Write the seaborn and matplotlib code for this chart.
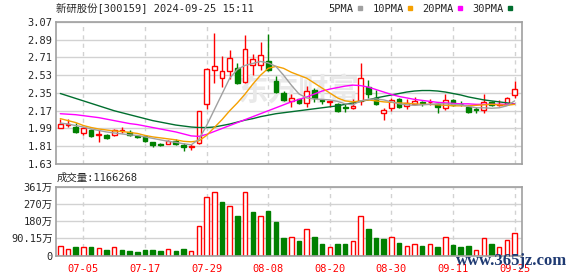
import matplotlib
matplotlib.use("Agg")
import matplotlib.pyplot as plt
from matplotlib.lines import Line2D
import seaborn as sns
import numpy as np

# ---------------- data ----------------
dates = ["07-05", "07-17", "07-29", "08-08", "08-20", "08-30", "09-11", "09-25"]
date_idx = [3, 11, 19, 27, 35, 43, 51, 59]

opens = [2.00, 2.03, 2.01, 1.94, 1.97, 1.925, 1.925, 1.92, 1.965, 1.955,
         1.91, 1.915, 1.855, 1.83, 1.835, 1.865, 1.825, 1.80, 1.84, 2.24,
         2.58, 2.50, 2.57, 2.60, 2.46, 2.635, 2.635, 2.675, 2.475, 2.345,
         2.265, 2.285, 2.245, 2.385, 2.275, 2.26, 2.235, 2.205, 2.195, 2.27,
         2.41, 2.30, 2.145, 2.195, 2.29, 2.215, 2.235, 2.255, 2.255, 2.235,
         2.195, 2.275, 2.24, 2.205, 2.185, 2.18, 2.26, 2.225, 2.235, 2.33]
highs = [2.09, 2.09, 2.05, 2.01, 1.98, 1.97, 1.93, 1.98, 2.01, 1.97,
         1.92, 1.92, 1.855, 1.845, 1.875, 1.885, 1.84, 1.83, 2.165, 2.60,
         2.96, 2.73, 2.79, 2.65, 2.94, 2.75, 2.87, 2.945, 2.52, 2.37,
         2.335, 2.29, 2.425, 2.40, 2.285, 2.28, 2.245, 2.235, 2.285, 2.65,
         2.485, 2.385, 2.20, 2.30, 2.30, 2.285, 2.31, 2.27, 2.285, 2.25,
         2.335, 2.29, 2.27, 2.225, 2.205, 2.335, 2.265, 2.28, 2.31, 2.475]
lows = [1.99, 2.01, 1.94, 1.92, 1.90, 1.85, 1.88, 1.91, 1.94, 1.91,
        1.895, 1.855, 1.80, 1.81, 1.83, 1.825, 1.76, 1.77, 1.83, 2.19,
        2.45, 2.41, 2.49, 2.445, 2.45, 2.535, 2.585, 2.57, 2.35, 2.27,
        2.21, 2.235, 2.21, 2.26, 2.235, 2.21, 2.16, 2.155, 2.185, 2.225,
        2.30, 2.225, 2.08, 2.17, 2.20, 2.185, 2.225, 2.215, 2.225, 2.145,
        2.18, 2.215, 2.215, 2.145, 2.145, 2.145, 2.215, 2.215, 2.225, 2.295]
closes = [2.04, 2.04, 1.95, 2.00, 1.91, 1.935, 1.89, 1.97, 1.97, 1.92,
          1.905, 1.86, 1.82, 1.825, 1.865, 1.835, 1.805, 1.81, 2.165, 2.59,
          2.625, 2.575, 2.70, 2.455, 2.80, 2.69, 2.735, 2.585, 2.36, 2.28,
          2.295, 2.245, 2.37, 2.30, 2.27, 2.265, 2.17, 2.20, 2.22, 2.50,
          2.335, 2.235, 2.18, 2.275, 2.21, 2.245, 2.27, 2.25, 2.26, 2.205,
          2.275, 2.23, 2.235, 2.155, 2.18, 2.26, 2.225, 2.24, 2.30, 2.39]

ma5 = [2.045, 2.035, 2.02, 2.005, 1.985, 1.97, 1.955, 1.945, 1.935, 1.925,
       1.92, 1.905, 1.89, 1.875, 1.86, 1.85, 1.835, 1.825, 1.88, 2.02,
       2.18, 2.34, 2.50, 2.59, 2.63, 2.65, 2.67, 2.655, 2.62, 2.53,
       2.43, 2.34, 2.30, 2.29, 2.285, 2.28, 2.265, 2.24, 2.23, 2.27,
       2.285, 2.29, 2.28, 2.26, 2.24, 2.23, 2.225, 2.23, 2.235, 2.24,
       2.24, 2.235, 2.23, 2.215, 2.20, 2.20, 2.195, 2.20, 2.22, 2.27]
ma10 = [2.09, 2.07, 2.05, 2.02, 2.00, 1.985, 1.975, 1.965, 1.96, 1.95,
        1.94, 1.92, 1.905, 1.895, 1.885, 1.875, 1.86, 1.855, 1.865, 1.92,
        2.00, 2.08, 2.17, 2.25, 2.34, 2.44, 2.53, 2.60, 2.62, 2.60,
        2.56, 2.53, 2.50, 2.45, 2.40, 2.35, 2.30, 2.27, 2.26, 2.27,
        2.28, 2.27, 2.26, 2.255, 2.25, 2.245, 2.24, 2.235, 2.235, 2.23,
        2.225, 2.22, 2.22, 2.22, 2.225, 2.23, 2.235, 2.23, 2.225, 2.235]
ma20 = [2.14, 2.135, 2.13, 2.12, 2.11, 2.10, 2.085, 2.07, 2.055, 2.04,
        2.03, 2.015, 2.00, 1.985, 1.97, 1.955, 1.935, 1.915, 1.91, 1.93,
        1.96, 1.99, 2.02, 2.05, 2.08, 2.11, 2.14, 2.17, 2.20, 2.23,
        2.26, 2.285, 2.31, 2.34, 2.37, 2.39, 2.405, 2.42, 2.43, 2.425,
        2.41, 2.385, 2.36, 2.335, 2.315, 2.30, 2.285, 2.275, 2.265, 2.255,
        2.25, 2.245, 2.24, 2.24, 2.235, 2.235, 2.235, 2.235, 2.235, 2.24]
ma30 = [2.345, 2.32, 2.295, 2.27, 2.245, 2.22, 2.195, 2.17, 2.15, 2.13,
        2.11, 2.09, 2.07, 2.055, 2.04, 2.025, 2.015, 2.005, 2.0, 2.0,
        2.005, 2.02, 2.035, 2.055, 2.075, 2.09, 2.11, 2.125, 2.14, 2.15,
        2.16, 2.17, 2.18, 2.19, 2.20, 2.21, 2.22, 2.235, 2.25, 2.265,
        2.28, 2.30, 2.315, 2.33, 2.345, 2.36, 2.37, 2.375, 2.375, 2.37,
        2.36, 2.345, 2.33, 2.31, 2.295, 2.28, 2.27, 2.26, 2.25, 2.24]

# volume in 万
volumes = [50, 33, 45, 43, 45, 38, 29, 43, 29, 24,
           19, 29, 29, 24, 33, 24, 34, 24, 153, 308,
           334, 279, 261, 206, 334, 227, 205, 230, 175, 93,
           96, 76, 141, 95, 60, 46, 60, 60, 74, 208,
           141, 89, 84, 98, 65, 52, 58, 50, 58, 43,
           95, 55, 43, 50, 28, 89, 60, 43, 81, 116.6]
vol_up = [1, 1, 0, 1, 0, 1, 0, 1, 0, 0,
          0, 0, 0, 0, 1, 0, 0, 1, 1, 1,
          1, 0, 1, 0, 1, 0, 1, 0, 0, 0,
          1, 0, 1, 0, 0, 1, 0, 0, 1, 1,
          0, 0, 0, 1, 0, 1, 1, 0, 1, 0,
          1, 0, 0, 0, 1, 1, 0, 1, 1, 1]

price_ticks = [1.63, 1.81, 1.99, 2.17, 2.35, 2.53, 2.71, 2.89, 3.07]
vol_ticks = [0, 90.15, 180.3, 270.45, 360.6]
vol_tick_labels = ["0", "90.15万", "180万", "270万", "361万"]
title = "新研股份[300159] 2024-09-25 15:11"
vol_title = "成交量:1166268"
ma_names = ["5PMA", "10PMA", "20PMA", "30PMA"]

# ---------------- style ----------------
sns.set_style("white")
plt.rcParams['font.family'] = ['DejaVu Sans Mono', 'Noto Sans CJK SC']
FS = 7.5
RED = "#ff0000"
GREEN = "#008000"
MA_COLORS = ["#a0a0a0", "#f5a000", "#ff00ff", "#006e2e"]
GRID = "#d2d2d2"
BORDER = "#a0a0a0"

W, H = 578, 276
fig = plt.figure(figsize=(W / 100, H / 100), dpi=100)


def rect(x0, y0, x1, y1):
    return [x0 / W, 1 - y1 / H, (x1 - x0) / W, (y1 - y0) / H]


ax = fig.add_axes(rect(56, 22, 522, 164))
axv = fig.add_axes(rect(56, 186.5, 522, 255.5))

n = len(closes)
x = np.arange(n)

for a in (ax, axv):
    a.set_xlim(-0.56, n - 0.04)
    for s in a.spines.values():
        s.set_color(BORDER)
        s.set_linewidth(1.2)
    a.tick_params(axis='both', length=0, labelsize=FS, pad=2.5)
    for xi in date_idx:
        a.axvline(xi, color=GRID, lw=1, ls=(0, (3, 3)), zorder=0.5)

# main price panel
ax.set_ylim(price_ticks[0], price_ticks[-1])
ax.set_yticks(price_ticks)
ax.set_yticklabels([f"{t:.2f}" for t in price_ticks])
ax.yaxis.grid(True, color=GRID, lw=1, zorder=0.5)
ax.set_axisbelow(True)
ax.set_xticks([])

ax.text(0.52, 0.52, "东方财富", transform=ax.transAxes, fontsize=22,
        fontweight='bold', color="#e9e9e9", ha='center', va='center',
        family=['Noto Sans CJK SC'], zorder=0.6)

for i in range(n):
    o, h, l, c = opens[i], highs[i], lows[i], closes[i]
    up = c >= o
    col = RED if up else GREEN
    ax.vlines(i, l, h, color=col, lw=1, zorder=2)
    bottom = min(o, c)
    height = max(abs(c - o), 0.002)
    ax.bar(i, height, bottom=bottom, width=0.62,
           facecolor="white" if up else GREEN, edgecolor=col, lw=1, zorder=2.5)

for vals, colr in zip([ma30, ma20, ma10, ma5], MA_COLORS[::-1]):
    sns.lineplot(x=x, y=vals, ax=ax, color=colr, lw=1, zorder=3, legend=False)
ax.set_ylim(price_ticks[0], price_ticks[-1])
ax.set_xlim(-0.56, n - 0.04)

# volume panel
axv.set_ylim(0, vol_ticks[-1])
axv.set_yticks(vol_ticks)
axv.set_yticklabels(vol_tick_labels)
axv.yaxis.grid(True, color=GRID, lw=1, zorder=0.5)
axv.set_axisbelow(True)
vcols = [RED if u else GREEN for u in vol_up]
vfaces = ["white" if u else GREEN for u in vol_up]
axv.bar(x, volumes, width=0.58, facecolor=vfaces, edgecolor=vcols, lw=1, zorder=2)
axv.set_xticks(date_idx)
axv.set_xticklabels(dates, color=RED)
axv.tick_params(axis='x', pad=6)

# texts
fig.text(56 / W, 1 - 9 / H, title, fontsize=FS, ha='left', va='center')
fig.text(57 / W, 1 - 178 / H, vol_title, fontsize=FS, ha='left', va='center')

handles = [Line2D([], [], marker='s', ls='none', color=c, markersize=3.5) for c in MA_COLORS]
fig.legend(handles, ma_names, ncol=4, markerfirst=False, loc='center right',
           bbox_to_anchor=(513 / W, 1 - 8.5 / H), frameon=False, fontsize=FS,
           handletextpad=0.3, columnspacing=0.9, handlelength=0.6,
           borderaxespad=0, borderpad=0)

fig.text(512 / W, 1 - 261 / H, "www.365jz.com", fontsize=12, color="#1f3a72",
         ha='center', va='center', family=['Liberation Serif'], fontweight='bold',
         zorder=10)

fig.savefig("out.png", dpi=100)
